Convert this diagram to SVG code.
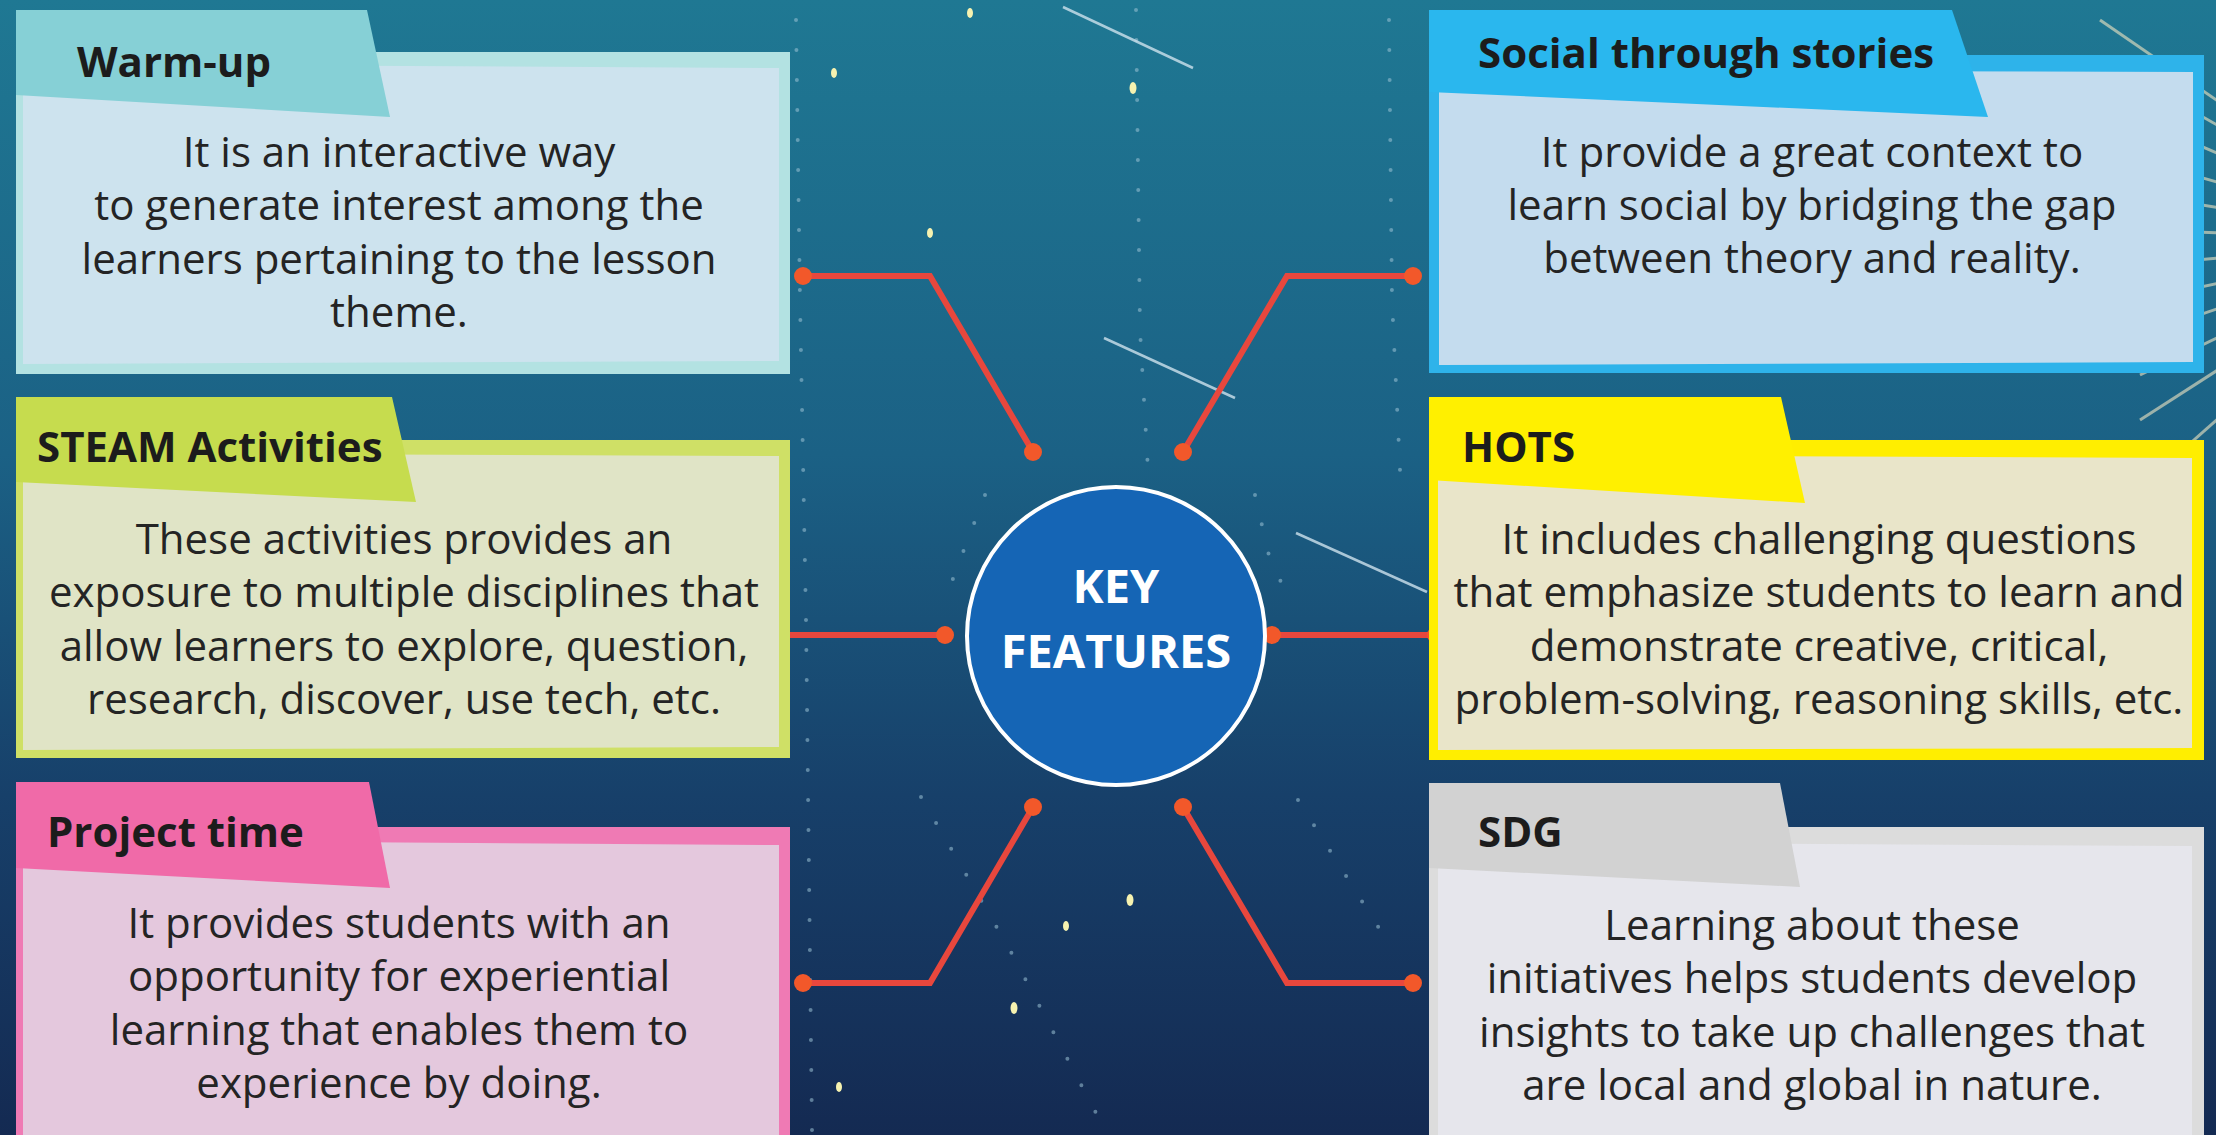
<svg xmlns="http://www.w3.org/2000/svg" width="2216" height="1135" viewBox="0 0 2216 1135">
<defs>
<linearGradient id="bg" x1="0" y1="0" x2="0" y2="1">
<stop offset="0" stop-color="#1f7893"/>
<stop offset="0.4" stop-color="#1b6185"/>
<stop offset="0.7" stop-color="#17406a"/>
<stop offset="1" stop-color="#142a52"/>
</linearGradient>
<style>
.title{font-family:"Open Sans","Noto Sans",sans-serif;font-weight:700;font-size:42px;fill:#1c1c1c}
.body{font-family:"Open Sans","Noto Sans",sans-serif;font-size:42px;fill:#242424;text-anchor:middle}
.key{font-family:"Open Sans","Noto Sans",sans-serif;font-weight:700;font-size:47px;fill:#ffffff;text-anchor:middle}
.wire{fill:none;stroke:#e8473d;stroke-width:6;stroke-linejoin:miter}
.dot{fill:#f2582a}
.stars{fill:none;stroke:#9cc3d6;stroke-width:4;stroke-linecap:round;stroke-dasharray:0 30;opacity:0.55}
.streak{stroke:#cfe3ee;stroke-width:2.5;opacity:0.8}
.ray{stroke:#f3e7c3;stroke-width:3;opacity:0.6}
.glow{fill:#f6f2b0}
</style>
</defs>
<rect width="2216" height="1135" fill="url(#bg)"/>
<g id="decor">
<line class="ray" x1="2420" y1="240" x2="2100" y2="20"/>
<line class="ray" x1="2420" y1="240" x2="2120" y2="70"/>
<line class="ray" x1="2420" y1="240" x2="2140" y2="120"/>
<line class="ray" x1="2420" y1="240" x2="2140" y2="160"/>
<line class="ray" x1="2420" y1="240" x2="2140" y2="195"/>
<line class="ray" x1="2420" y1="240" x2="2140" y2="230"/>
<line class="ray" x1="2420" y1="240" x2="2140" y2="265"/>
<line class="ray" x1="2420" y1="240" x2="2140" y2="300"/>
<line class="ray" x1="2420" y1="240" x2="2140" y2="335"/>
<line class="ray" x1="2420" y1="240" x2="2140" y2="375"/>
<line class="ray" x1="2420" y1="240" x2="2140" y2="420"/>
<line class="ray" x1="2420" y1="240" x2="2160" y2="470"/>
<path class="stars" d="M796 20 L800 300 L806 620 L812 1130"/>
<path class="stars" d="M1136 10 L1140 330 L1148 470"/>
<path class="stars" d="M1389 20 L1392 300 L1400 470"/>
<path class="stars" d="M921 797 L1010 950 L1106 1132"/>
<path class="stars" d="M1298 800 L1394 952"/>
<path class="stars" d="M985 495 L960 560 L945 600"/>
<path class="stars" d="M1255 495 L1270 560 L1290 600"/>
<line class="streak" x1="1063" y1="7" x2="1193" y2="68"/>
<line class="streak" x1="1104" y1="338" x2="1235" y2="398"/>
<line class="streak" x1="1296" y1="533" x2="1427" y2="592"/>
<ellipse class="glow" cx="970" cy="13" rx="3" ry="5"/>
<ellipse class="glow" cx="834" cy="73" rx="3" ry="5"/>
<ellipse class="glow" cx="1133" cy="88" rx="3.5" ry="6"/>
<ellipse class="glow" cx="930" cy="233" rx="3" ry="5"/>
<ellipse class="glow" cx="1130" cy="900" rx="3.5" ry="6"/>
<ellipse class="glow" cx="1066" cy="926" rx="3" ry="5"/>
<ellipse class="glow" cx="1014" cy="1008" rx="3.5" ry="6"/>
<ellipse class="glow" cx="839" cy="1087" rx="3" ry="5"/>
</g>
<g id="connectors">
<polyline class="wire" points="803,276 930,276 1033,452"/>
<polyline class="wire" points="1413,276 1287,276 1183,452"/>
<polyline class="wire" points="781,635 945,635"/>
<polyline class="wire" points="1272,635 1436,635"/>
<polyline class="wire" points="803,983 930,983 1033,807"/>
<polyline class="wire" points="1413,983 1287,983 1183,807"/>
<circle class="dot" cx="803" cy="276" r="9"/>
<circle class="dot" cx="1033" cy="452" r="9"/>
<circle class="dot" cx="1413" cy="276" r="9"/>
<circle class="dot" cx="1183" cy="452" r="9"/>
<circle class="dot" cx="781" cy="635" r="9"/>
<circle class="dot" cx="945" cy="635" r="9"/>
<circle class="dot" cx="1272" cy="635" r="9"/>
<circle class="dot" cx="1436" cy="635" r="9"/>
<circle class="dot" cx="803" cy="983" r="9"/>
<circle class="dot" cx="1033" cy="807" r="9"/>
<circle class="dot" cx="1413" cy="983" r="9"/>
<circle class="dot" cx="1183" cy="807" r="9"/>
</g>
<g id="warm-up">
<rect x="16" y="52" width="774" height="322" fill="#b3e2e2"/>
<polygon points="23,64 779,68 779,361 23,364" fill="#cde3ee"/>
<polygon points="16,10 367,10 390,117 16,95" fill="#86d0d6"/>
<text class="title" x="77" y="77">Warm-up</text>
<text class="body" x="399" y="167">It is an interactive way</text>
<text class="body" x="399" y="220">to generate interest among the</text>
<text class="body" x="399" y="274">learners pertaining to the lesson</text>
<text class="body" x="399" y="327">theme.</text>
</g>
<g id="steam-activities">
<rect x="16" y="440" width="774" height="318" fill="#cfe066"/>
<polygon points="23,453 779,456 779,747 23,750" fill="#e0e4c6"/>
<polygon points="16,397 392,397 416,502 16,482" fill="#c6dc4e"/>
<text class="title" x="37" y="462">STEAM Activities</text>
<text class="body" x="404" y="554">These activities provides an</text>
<text class="body" x="404" y="607">exposure to multiple disciplines that</text>
<text class="body" x="404" y="661">allow learners to explore, question,</text>
<text class="body" x="404" y="714">research, discover, use tech, etc.</text>
</g>
<g id="project-time">
<rect x="16" y="827" width="774" height="320" fill="#ef7ab4"/>
<polygon points="23,840 779,845 779,1140 23,1140" fill="#e4c8dd"/>
<polygon points="16,782 369,782 390,888 16,868" fill="#f06aa8"/>
<text class="title" x="47" y="847">Project time</text>
<text class="body" x="399" y="938">It provides students with an</text>
<text class="body" x="399" y="991">opportunity for experiential</text>
<text class="body" x="399" y="1045">learning that enables them to</text>
<text class="body" x="399" y="1098">experience by doing.</text>
</g>
<g id="social-through-stories">
<rect x="1429" y="55" width="775" height="318" fill="#2eb3ea"/>
<polygon points="1439,70 2193,72 2193,362 1439,365" fill="#c4dcee"/>
<polygon points="1429,10 1952,10 1988,117 1429,92" fill="#2ab7ee"/>
<text class="title" x="1478" y="68">Social through stories</text>
<text class="body" x="1812" y="167">It provide a great context to</text>
<text class="body" x="1812" y="220">learn social by bridging the gap</text>
<text class="body" x="1812" y="273">between theory and reality.</text>
</g>
<g id="hots">
<rect x="1429" y="440" width="775" height="320" fill="#ffee00"/>
<polygon points="1438,455 2192,458 2192,748 1438,750" fill="#e9e5c9"/>
<polygon points="1429,397 1781,397 1805,503 1429,480" fill="#fff000"/>
<text class="title" x="1462" y="462">HOTS</text>
<text class="body" x="1819" y="554">It includes challenging questions</text>
<text class="body" x="1819" y="607">that emphasize students to learn and</text>
<text class="body" x="1819" y="661">demonstrate creative, critical,</text>
<text class="body" x="1819" y="714">problem-solving, reasoning skills, etc.</text>
</g>
<g id="sdg">
<rect x="1429" y="827" width="775" height="320" fill="#dcdcdc"/>
<polygon points="1438,842 2192,846 2192,1140 1438,1140" fill="#e6e6ec"/>
<polygon points="1429,783 1780,783 1800,887 1429,868" fill="#d2d2d2"/>
<text class="title" x="1478" y="847">SDG</text>
<text class="body" x="1812" y="940">Learning about these</text>
<text class="body" x="1812" y="993">initiatives helps students develop</text>
<text class="body" x="1812" y="1047">insights to take up challenges that</text>
<text class="body" x="1812" y="1100">are local and global in nature.</text>
</g>
<g id="key-features">
<circle cx="1116" cy="636" r="149" fill="#1565b5" stroke="#ffffff" stroke-width="4"/>
<text class="key" x="1116" y="603">KEY</text>
<text class="key" x="1116" y="668">FEATURES</text>
</g>
</svg>
